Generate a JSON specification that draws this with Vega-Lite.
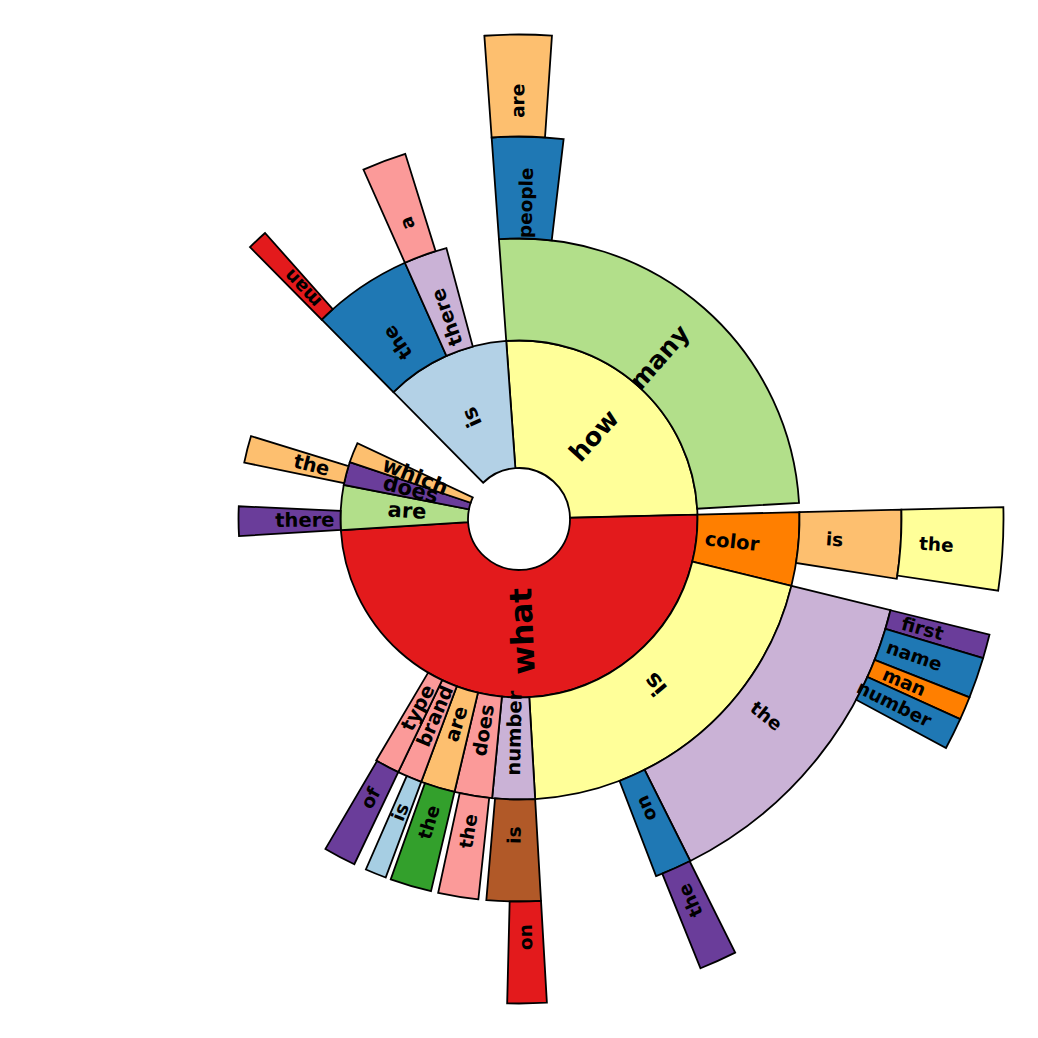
{
  "$schema": "https://vega.github.io/schema/vega-lite/v6.json",
  "width": 1038,
  "height": 1038,
  "autosize": {"type": "fit", "contains": "padding"},
  "padding": 0,
  "background": "white",
  "view": {"stroke": null},
  "data": {
    "values": [
      {"path": "how", "word": "how", "depth": 1, "start": -4.1, "end": 88.6},
      {"path": "what", "word": "what", "depth": 1, "start": 88.6, "end": 266.4},
      {"path": "are", "word": "are", "depth": 1, "start": 266.4, "end": 281.0},
      {"path": "does", "word": "does", "depth": 1, "start": 281.0, "end": 288.6},
      {"path": "which", "word": "which", "depth": 1, "start": 288.6, "end": 295.1},
      {"path": "is", "word": "is", "depth": 1, "start": 315.3, "end": 355.9},
      {"path": "how/many", "word": "many", "depth": 2, "start": -4.1, "end": 86.7},
      {"path": "what/color", "word": "color", "depth": 2, "start": 88.6, "end": 103.8},
      {"path": "what/is", "word": "is", "depth": 2, "start": 103.8, "end": 176.7},
      {"path": "what/number", "word": "number", "depth": 2, "start": 176.7, "end": 185.5},
      {"path": "what/does", "word": "does", "depth": 2, "start": 185.5, "end": 193.3},
      {"path": "what/are", "word": "are", "depth": 2, "start": 193.3, "end": 200.4},
      {"path": "what/brand", "word": "brand", "depth": 2, "start": 200.4, "end": 205.5},
      {"path": "what/type", "word": "type", "depth": 2, "start": 205.5, "end": 210.6},
      {"path": "are/there", "word": "there", "depth": 2, "start": 266.5, "end": 272.6},
      {"path": "does/the", "word": "the", "depth": 2, "start": 281.6, "end": 287.2},
      {"path": "is/the", "word": "the", "depth": 2, "start": 315.3, "end": 336.0},
      {"path": "is/there", "word": "there", "depth": 2, "start": 336.0, "end": 345.0},
      {"path": "how/many/people", "word": "people", "depth": 3, "start": -4.1, "end": 6.7},
      {"path": "what/color/is", "word": "is", "depth": 3, "start": 88.6, "end": 99.0},
      {"path": "what/is/the", "word": "the", "depth": 3, "start": 103.8, "end": 153.4},
      {"path": "what/is/on", "word": "on", "depth": 3, "start": 153.4, "end": 159.0},
      {"path": "what/number/is", "word": "is", "depth": 3, "start": 176.7, "end": 184.9},
      {"path": "what/does/the", "word": "the", "depth": 3, "start": 186.1, "end": 192.2},
      {"path": "what/are/the", "word": "the", "depth": 3, "start": 193.3, "end": 199.6},
      {"path": "what/brand/is", "word": "is", "depth": 3, "start": 200.4, "end": 203.6},
      {"path": "what/type/of", "word": "of", "depth": 3, "start": 205.5, "end": 210.4},
      {"path": "is/the/man", "word": "man", "depth": 3, "start": 315.3, "end": 318.4},
      {"path": "is/there/a", "word": "a", "depth": 3, "start": 336.0, "end": 342.7},
      {"path": "how/many/people/are", "word": "are", "depth": 4, "start": -4.1, "end": 3.9},
      {"path": "what/color/is/the", "word": "the", "depth": 4, "start": 88.6, "end": 98.5},
      {"path": "what/is/the/first", "word": "first", "depth": 4, "start": 103.8, "end": 106.7},
      {"path": "what/is/the/name", "word": "name", "depth": 4, "start": 106.7, "end": 111.6},
      {"path": "what/is/the/man", "word": "man", "depth": 4, "start": 111.6, "end": 114.4},
      {"path": "what/is/the/number", "word": "number", "depth": 4, "start": 114.4, "end": 118.2},
      {"path": "what/is/on/the", "word": "the", "depth": 4, "start": 153.5, "end": 158.0},
      {"path": "what/number/is/on", "word": "on", "depth": 4, "start": 176.7, "end": 181.4}
    ]
  },
  "transform": [
    {"calculate": "datum.depth == 1 ? 0.5 : datum.depth - 0.25", "as": "rIn"},
    {"calculate": "datum.depth + 0.75", "as": "rOut"},
    {"calculate": "datum.depth + 0.1", "as": "rLab"},
    {"calculate": "(datum.start + datum.end) / 2", "as": "mid"},
    {"calculate": "((datum.mid % 360) + 360) % 360", "as": "midN"},
    {"calculate": "datum.midN > 133 && datum.midN < 313 ? datum.midN + 90 : datum.midN - 90", "as": "rot"},
    {"calculate": "datum.end - datum.start", "as": "span"},
    {"calculate": "datum.depth == 1 ? max(21, 11 + 1.5 * sqrt(datum.span)) : (datum.depth == 2 ? max(19.5, 11 + 1.45 * sqrt(datum.span)) : 18.5)", "as": "fs"}
  ],
  "layer": [
    {
      "mark": {"type": "arc", "stroke": "black", "strokeWidth": 1.8},
      "encoding": {
        "theta": {"field": "start", "type": "quantitative", "stack": null, "scale": {"domain": [0, 360], "range": [0, 6.283185307179586]}},
        "theta2": {"field": "end"},
        "radius": {"field": "rOut", "type": "quantitative", "scale": {"type": "linear", "domain": [0, 4.75], "range": [0, 484.5]}},
        "radius2": {"field": "rIn"},
        "color": {
          "field": "path",
          "type": "nominal",
          "legend": null,
          "scale": {
            "domain": ["how", "what", "are", "does", "which", "is", "how/many", "what/color", "what/is", "what/number", "what/does", "what/are", "what/brand", "what/type", "are/there", "does/the", "is/the", "is/there", "how/many/people", "what/color/is", "what/is/the", "what/is/on", "what/number/is", "what/does/the", "what/are/the", "what/brand/is", "what/type/of", "is/the/man", "is/there/a", "how/many/people/are", "what/color/is/the", "what/is/the/first", "what/is/the/name", "what/is/the/man", "what/is/the/number", "what/is/on/the", "what/number/is/on"],
            "range": ["#ffff99", "#e31a1c", "#b2df8a", "#6a3d9a", "#fdbf6f", "#b3d1e6", "#b2df8a", "#ff7f00", "#ffff99", "#cab2d6", "#fb9a99", "#fdbf6f", "#fb9a99", "#fb9a99", "#6a3d9a", "#fdbf6f", "#1f78b4", "#cab2d6", "#1f78b4", "#fdbf6f", "#cab2d6", "#1f78b4", "#b15928", "#fb9a99", "#33a02c", "#a6cee3", "#6a3d9a", "#e31a1c", "#fb9a99", "#fdbf6f", "#ffff99", "#6a3d9a", "#1f78b4", "#ff7f00", "#1f78b4", "#6a3d9a", "#e31a1c"]
          }
        }
      }
    },
    {
      "mark": {"type": "text", "font": "DejaVu Sans", "fontWeight": "bold", "align": "center", "baseline": "middle", "color": "black"},
      "encoding": {
        "theta": {"field": "mid", "type": "quantitative", "stack": null},
        "radius": {"field": "rLab", "type": "quantitative"},
        "text": {"field": "word"},
        "angle": {"field": "rot", "type": "quantitative", "scale": null},
        "size": {"field": "fs", "type": "quantitative", "scale": null}
      }
    }
  ]
}
